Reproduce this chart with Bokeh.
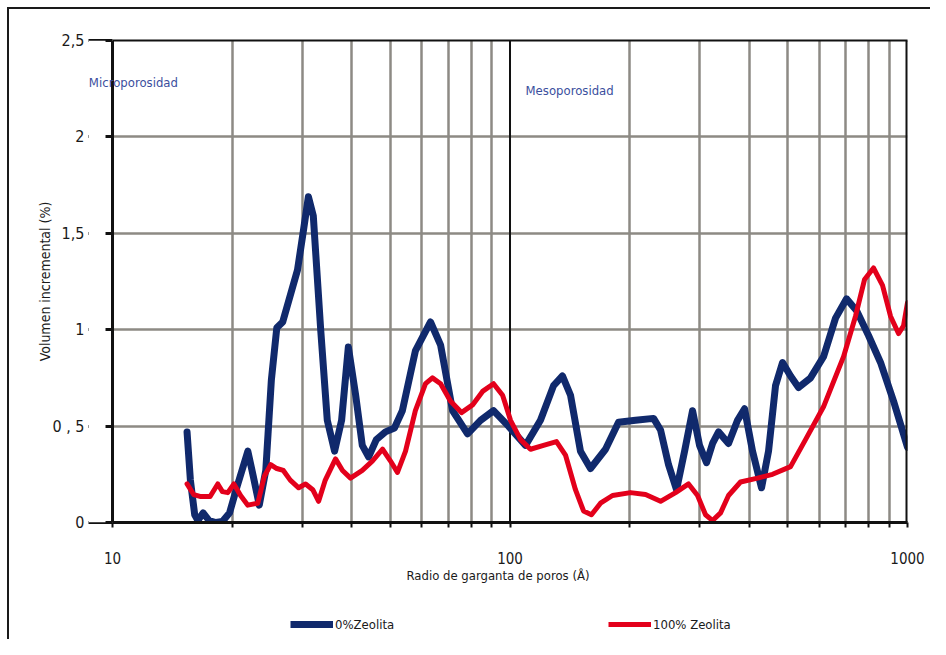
from bokeh.plotting import figure
from bokeh.layouts import column
from bokeh.models import (Range1d, FixedTicker, Label, Legend, LegendItem, Span, LogAxis,
                          LogScale, Grid, BoxAnnotation)
from bokeh.embed import file_html
from bokeh.resources import INLINE

# ---- data ----
x_zeo0 = [15.4, 15.7, 16.1, 16.4, 16.9, 17.5, 18.2, 18.9, 19.7, 20.6, 21.9, 22.6, 23.4,
          24.3, 25.1, 25.9, 26.8, 29.2, 30.2, 31.1, 32.0, 33.4, 34.7, 36.2, 37.7, 39.2,
          40.9, 42.5, 44.1, 46.1, 48.6, 51.2, 53.6, 57.8, 63.1, 66.9, 71.7, 78.2, 84.3,
          90.9, 99.1, 109.4, 119.3, 128.7, 135.5, 142.0, 150.4, 159.4, 173.9, 187.5,
          206.9, 229.7, 239.2, 250.5, 262.4, 274.9, 287.9, 299.8, 312.2, 323.3, 334.7,
          354.6, 373.6, 389.1, 407.5, 429.3, 447.1, 465.6, 484.9, 507.9, 531.9, 570.2,
          614.8, 659.1, 702.5, 744.3, 797.9, 855.3, 922.2, 1000.0]
y_zeo0 = [0.47, 0.22, 0.04, 0.01, 0.05, 0.01, 0.0, 0.005, 0.05, 0.19, 0.37, 0.24, 0.09,
          0.27, 0.74, 1.01, 1.04, 1.31, 1.51, 1.69, 1.59, 1.0, 0.53, 0.37, 0.53, 0.91,
          0.66, 0.40, 0.34, 0.43, 0.47, 0.49, 0.58, 0.89, 1.04, 0.92, 0.58, 0.46, 0.53,
          0.58, 0.50, 0.40, 0.53, 0.71, 0.76, 0.66, 0.37, 0.28, 0.38, 0.52,
          0.53, 0.54, 0.48, 0.30, 0.17, 0.37, 0.58, 0.40, 0.31, 0.41, 0.47,
          0.41, 0.53, 0.59, 0.37, 0.18, 0.37, 0.71, 0.83, 0.76, 0.70, 0.75,
          0.86, 1.06, 1.16, 1.10, 0.97, 0.83, 0.63, 0.39]

x_zeo100 = [15.4, 16.0, 16.6, 17.6, 18.4, 18.9, 19.5, 20.2, 21.0, 21.9, 23.2, 24.1, 25.0,
            25.9, 26.9, 28.0, 29.4, 30.6, 31.9, 33.0, 34.3, 36.4, 37.9, 39.7, 42.5, 45.1,
            47.8, 50.0, 52.1, 54.6, 57.8, 61.3, 63.8, 66.9, 70.8, 75.5, 80.5, 85.3, 90.9,
            95.8, 100.3, 106.3, 112.6, 121.4, 130.9, 137.9, 146.1, 153.1, 160.3, 168.9,
            181.1, 201.0, 219.3, 239.2, 260.9, 281.3, 296.4, 310.4, 323.3, 338.6, 354.6,
            380.1, 419.5, 457.6, 507.9, 553.9, 614.8, 690.4, 740.0, 779.6, 821.3, 865.3,
            906.3, 949.3, 977.1, 1000.0]
y_zeo100 = [0.20, 0.145, 0.135, 0.135, 0.20, 0.16, 0.155, 0.20, 0.14, 0.09, 0.10, 0.24, 0.30,
            0.28, 0.27, 0.22, 0.18, 0.20, 0.17, 0.11, 0.22, 0.33, 0.27, 0.23, 0.27, 0.32,
            0.38, 0.32, 0.26, 0.37, 0.58, 0.72, 0.75, 0.72, 0.63, 0.57, 0.61, 0.68, 0.72,
            0.66, 0.53, 0.43, 0.38, 0.40, 0.42, 0.35, 0.17, 0.06, 0.04, 0.10,
            0.14, 0.155, 0.145, 0.11, 0.155, 0.20, 0.14, 0.04, 0.01, 0.05, 0.14,
            0.21, 0.23, 0.25, 0.29, 0.43, 0.60, 0.86, 1.07, 1.26, 1.32, 1.23,
            1.07, 0.98, 1.02, 1.14]

x_major_ticks = [10, 100, 1000]
x_minor_ticks = [20, 30, 40, 50, 60, 70, 80, 90, 200, 300, 400, 500, 600, 700, 800, 900]
y_ticks = [0, 0.5, 1, 1.5, 2, 2.5]
y_tick_labels = ["0", "0 , 5", "1", "1,5", "2", "2,5"]
series_names = ["0%Zeolita", "100% Zeolita"]
micro_name, micro_x, micro_y = "Microporosidad", 8.72, 2.282
meso_name, meso_x, meso_y = "Mesoporosidad", 109.4, 2.241
divider_x = 100
x_lo, x_hi = 10, 1000
y_lo, y_hi = 0, 2.5

FONT = "DejaVu Sans Condensed"
BLUE = "#10296c"
RED = "#e3001b"
GRID = "#8d8a84"
TXT = "#1a1a1a"
LBL = "#3b4f9e"
INK = "#111111"

# the frame starts a little left of x=10 so the "Microporosidad" note is not clipped
p = figure(width=930, height=600, x_axis_type=None, y_axis_type="linear",
           x_range=Range1d(8.7016, x_hi), y_range=Range1d(y_lo, y_hi),
           output_backend="svg", toolbar_location=None,
           min_border_left=88, min_border_right=23, min_border_top=40,
           min_border_bottom=78)
p.background_fill_color = "white"
p.border_fill_color = None
p.outline_line_color = None

p.x_scale = LogScale()
xaxis = LogAxis(bounds=(x_lo, x_hi))
xaxis.ticker = FixedTicker(ticks=x_major_ticks, minor_ticks=x_minor_ticks)
xaxis.axis_line_width = 3
xaxis.axis_line_color = INK
xaxis.major_tick_out = 5
xaxis.major_tick_in = 0
xaxis.minor_tick_out = 5
xaxis.minor_tick_in = 0
xaxis.major_tick_line_width = 2
xaxis.minor_tick_line_width = 2
xaxis.major_tick_line_color = INK
xaxis.minor_tick_line_color = INK
xaxis.major_label_overrides = {10: "10", 100: "100", 1000: "1000"}
xaxis.major_label_standoff = 24
xaxis.major_label_text_font = FONT
xaxis.major_label_text_font_size = "15px"
xaxis.major_label_text_color = TXT
xaxis.axis_label = "Radio de garganta de poros (Å)"
xaxis.axis_label_text_font = FONT
xaxis.axis_label_text_font_size = "13px"
xaxis.axis_label_text_font_style = "normal"
xaxis.axis_label_text_color = TXT
xaxis.axis_label_standoff = 1
p.add_layout(xaxis, "below")

# top border of the plotting area
top_axis = LogAxis(bounds=(x_lo, x_hi), ticker=FixedTicker(ticks=[]),
                   axis_line_width=2, axis_line_color=INK,
                   major_tick_out=0, major_tick_in=0, minor_tick_out=0, minor_tick_in=0,
                   major_label_text_font_size="0px")
p.add_layout(top_axis, "above")

# y axis sits at the frame edge; its ticks reach in to x=10 where the axis line is drawn
p.yaxis.ticker = FixedTicker(ticks=y_ticks)
p.yaxis.major_label_overrides = dict(zip(y_ticks, y_tick_labels))
p.yaxis.axis_line_color = None
p.yaxis.major_tick_out = 0
p.yaxis.major_tick_in = 24
p.yaxis.major_tick_line_width = 3
p.yaxis.major_tick_line_color = INK
p.yaxis.minor_tick_line_color = None
p.yaxis.major_label_standoff = 4
p.yaxis.major_label_text_font = FONT
p.yaxis.major_label_text_font_size = "16px"
p.yaxis.major_label_text_color = TXT
p.yaxis.axis_label = "Volumen incremental (%)"
p.yaxis.axis_label_text_font = FONT
p.yaxis.axis_label_text_font_size = "14px"
p.yaxis.axis_label_text_font_style = "normal"
p.yaxis.axis_label_text_color = TXT
p.yaxis.axis_label_standoff = -4

p.ygrid.ticker = FixedTicker(ticks=y_ticks[1:])
p.ygrid.grid_line_color = GRID
p.ygrid.grid_line_width = 2.5
xgrid = Grid(dimension=0, ticker=FixedTicker(ticks=x_minor_ticks),
             grid_line_color=GRID, grid_line_width=2.5)
p.add_layout(xgrid)
# blank strip left of the y axis (only the last 7 px of each tick stay visible)
p.add_layout(BoxAnnotation(right=9.603, fill_color="white", fill_alpha=1.0,
                           line_color=None, level="annotation"))

p.add_layout(Span(location=divider_x, dimension="height", line_color=INK,
                  line_width=2, level="underlay"))
p.add_layout(Span(location=x_lo, dimension="height", line_color=INK, line_width=3))
p.add_layout(Span(location=x_hi, dimension="height", line_color=INK, line_width=4))

r0 = p.line(x_zeo0, y_zeo0, line_color=BLUE, line_width=7, line_join="round", line_cap="round")
r1 = p.line(x_zeo100, y_zeo100, line_color=RED, line_width=5, line_join="round", line_cap="round")

p.add_layout(Label(x=micro_x, y=micro_y, text=micro_name, text_font=FONT, text_font_size="13px",
                   text_color=LBL, text_baseline="middle", text_align="left"))
p.add_layout(Label(x=meso_x, y=meso_y, text=meso_name, text_font=FONT, text_font_size="13px",
                   text_color=LBL, text_baseline="middle", text_align="left"))

# legend row: a strip below the chart carrying the same series (out of its view)
p2 = figure(width=930, height=39, x_axis_type=None, y_axis_type=None,
            x_range=Range1d(x_lo, x_hi), y_range=Range1d(10, 11),
            output_backend="svg", toolbar_location=None,
            min_border_left=0, min_border_right=0, min_border_top=0, min_border_bottom=0)
p2.background_fill_color = None
p2.border_fill_color = None
p2.outline_line_color = None
p2.grid.visible = False
l0 = p2.line(x_zeo0, y_zeo0, line_color=BLUE, line_width=7, line_cap="butt")
l1 = p2.line(x_zeo100, y_zeo100, line_color=RED, line_width=5, line_cap="butt")
lg = Legend(items=[LegendItem(label=n, renderers=[r]) for n, r in zip(series_names, [l0, l1])],
            location=(202, 7), orientation="horizontal", border_line_color=None,
            background_fill_alpha=0, padding=0, margin=0, spacing=195,
            glyph_width=43, glyph_height=16, label_height=16, label_width=78,
            label_standoff=2, label_text_font=FONT, label_text_font_size="13px",
            label_text_color=TXT, label_text_baseline="middle")
p2.add_layout(lg, "center")

layout = column(p, p2, spacing=0,
                styles={"background-color": "white",
                        "box-shadow": "inset 7px 7px 0 0 #ffffff, inset 9px 9px 0 0 #1a1a1a"})

open("out.html", "w").write(file_html(layout, INLINE))
